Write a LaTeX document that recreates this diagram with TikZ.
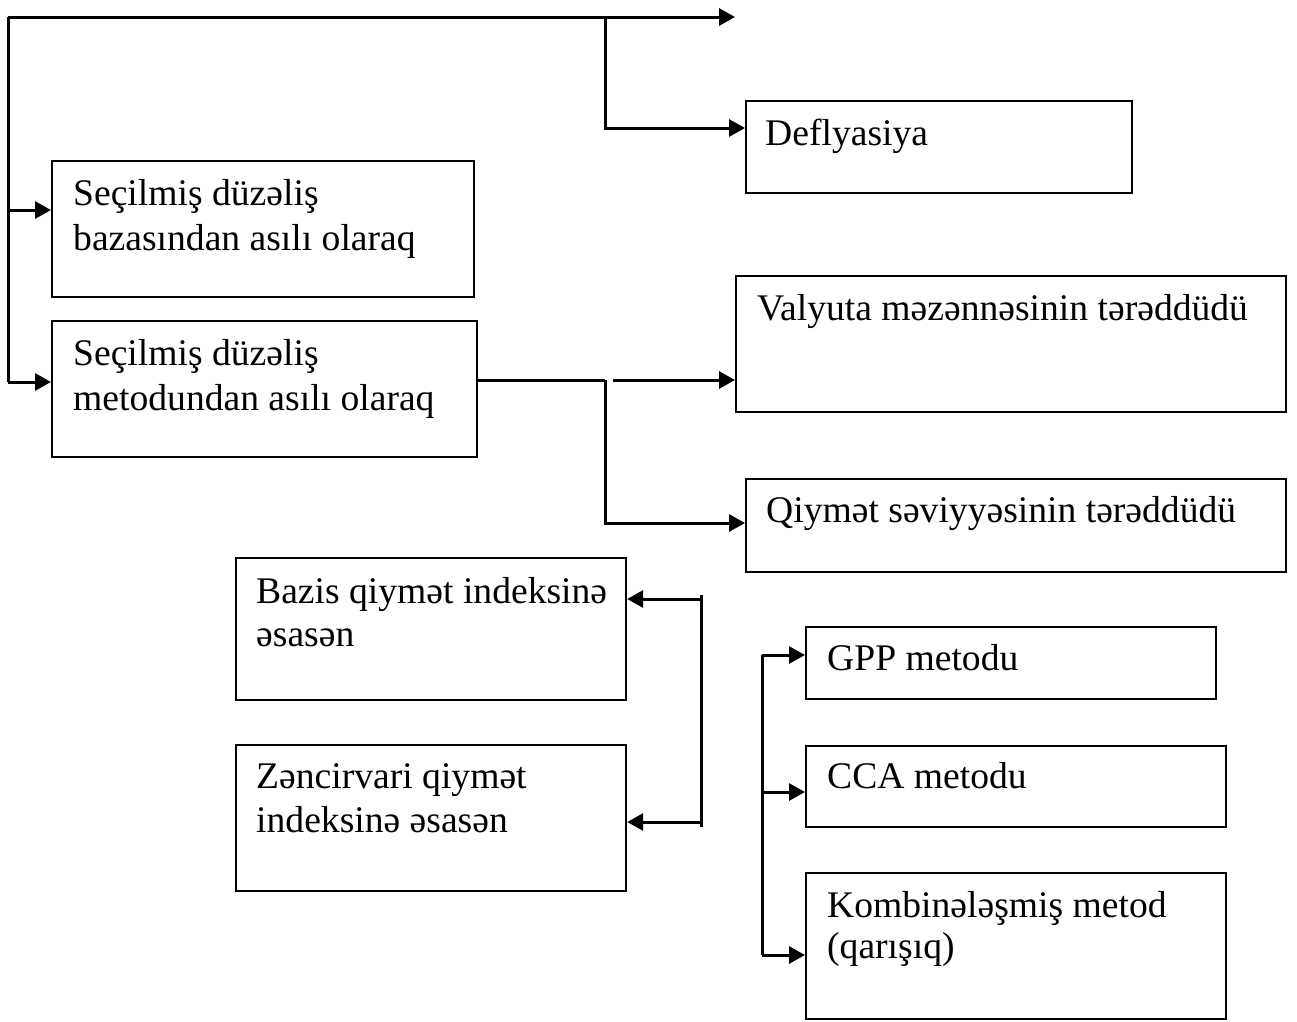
\documentclass[tikz,border=0pt]{standalone}
\usepackage{fontspec}
\setmainfont{Liberation Serif}
\usetikzlibrary{arrows.meta}
\begin{document}
\begin{tikzpicture}[x=1pt,y=-1pt,
  boxst/.style={draw,line width=2.2pt,anchor=north west,inner sep=0pt},
  lbl/.style={anchor=base west,inner sep=0pt,font=\fontsize{37.6}{44}\selectfont},
  conn/.style={line width=3pt},
  arr/.style={line width=3pt,-{Triangle[length=16pt,width=17pt]}}]
\useasboundingbox (0,0) rectangle (1297,1021);
% boxes
\node[boxst,minimum width=386pt,minimum height=92pt] (defl) at (745,100) {};
\node[boxst,minimum width=422pt,minimum height=136pt] (b1) at (51,160) {};
\node[boxst,minimum width=425pt,minimum height=136pt] (b2) at (51,320) {};
\node[boxst,minimum width=550pt,minimum height=136pt] (val) at (735,275) {};
\node[boxst,minimum width=540pt,minimum height=93pt] (qiy) at (745,478) {};
\node[boxst,minimum width=390pt,minimum height=142pt] (baz) at (235,557) {};
\node[boxst,minimum width=390pt,minimum height=146pt] (zen) at (235,744) {};
\node[boxst,minimum width=410pt,minimum height=72pt] (gpp) at (805,626) {};
\node[boxst,minimum width=420pt,minimum height=81pt] (cca) at (805,745) {};
\node[boxst,minimum width=420pt,minimum height=146pt] (komb) at (805,872) {};
% texts
\node[lbl] (tdefl) at (765,145) {Deflyasiya};
\node[lbl] (tb1a) at (73,205) {Seçilmiş düzəliş};
\node[lbl] (tb1b) at (73,250) {bazasından asılı olaraq};
\node[lbl] (tb2a) at (73,365) {Seçilmiş düzəliş};
\node[lbl] (tb2b) at (73,410) {metodundan asılı olaraq};
\node[lbl] (tval) at (757,320) {Valyuta məzənnəsinin tərəddüdü};
\node[lbl] (tqiy) at (766,522) {Qiymət səviyyəsinin tərəddüdü};
\node[lbl] (tbaza) at (256,603) {Bazis qiymət indeksinə};
\node[lbl] (tbazb) at (256,646) {əsasən};
\node[lbl] (tzena) at (256,788) {Zəncirvari qiymət};
\node[lbl] (tzenb) at (256,832) {indeksinə əsasən};
\node[lbl] (tgpp) at (827,670) {GPP metodu};
\node[lbl] (tcca) at (827,788) {CCA metodu};
\node[lbl] (tkomba) at (827,917) {Kombinələşmiş metod};
\node[lbl] (tkombb) at (827,958) {(qarışıq)};
% coordinates
\coordinate (tl) at (8,17);
\coordinate (tr) at (735,17);
\coordinate (bl) at (8,382);
\coordinate (L1) at (8,210);
\coordinate (L2) at (8,382);
\coordinate (d0) at (605,17);
\coordinate (d1) at (605,128);
\coordinate (m0) at (476,380);
\coordinate (m1) at (605,380);
\coordinate (m2) at (605,523);
\coordinate (v0) at (613,380);
\coordinate (k0) at (701,595);
\coordinate (k1) at (701,827);
\coordinate (k2) at (701,599);
\coordinate (k3) at (701,822);
\coordinate (r0) at (762,655);
\coordinate (r1) at (762,955);
\coordinate (r2) at (762,792);
% connectors
\draw[arr] (tl) -- (tr);
\draw[conn] (tl) -- (bl);
\draw[arr] (L1) -- (L1 -| b1.west);
\draw[arr] (L2) -- (L2 -| b2.west);
\draw[arr] (d0) -- (d1) -- (d1 -| defl.west);
\draw[conn] (m0) -- (m1);
\draw[arr] (m1) -- (m2) -- (m2 -| qiy.west);
\draw[arr] (v0) -- (v0 -| val.west);
\draw[conn] (k0) -- (k1);
\draw[arr] (k2) -- (k2 -| baz.east);
\draw[arr] (k3) -- (k3 -| zen.east);
\draw[arr] (r0) -- (r0 -| gpp.west);
\draw[conn] (r0) -- (r1);
\draw[arr] (r2) -- (r2 -| cca.west);
\draw[arr] (r1) -- (r1 -| komb.west);
\end{tikzpicture}
\end{document}
